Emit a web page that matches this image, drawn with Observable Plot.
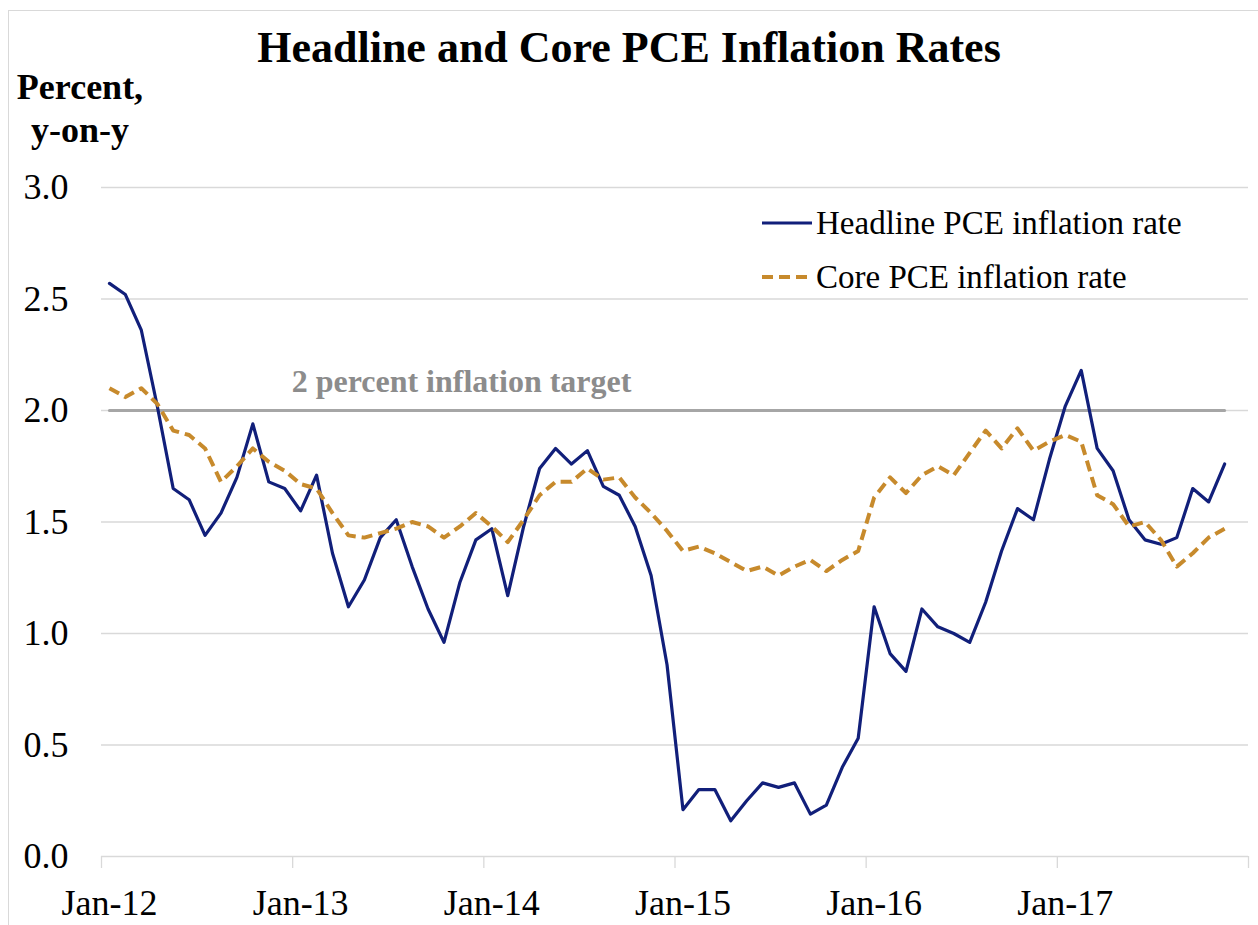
<!DOCTYPE html>
<html>
<head>
<meta charset="utf-8">
<script src="https://cdn.jsdelivr.net/npm/d3@7"></script>
<script src="https://cdn.jsdelivr.net/npm/@observablehq/plot@0.6"></script>
<style>
  html, body { margin: 0; padding: 0; background: #fff; overflow: hidden; }
  #wrap { position: relative; width: 1258px; height: 925px; font-family: "Liberation Serif", "Times New Roman", serif; }
  #border { position: absolute; left: 8px; top: 10px; width: 1400px; height: 1100px; border: 1px solid #d9d9d9; box-sizing: border-box; }
  #chart { position: absolute; left: 0; top: 0; }
  .title { position: absolute; left: 0; width: 1258px; top: 22px; text-align: center; font-weight: bold; font-size: 44px; color: #000; white-space: nowrap; }
  .ylab { position: absolute; left: 0; width: 160px; top: 66px; text-align: center; font-weight: bold; font-size: 36px; line-height: 43px; color: #000; }
  .legend { position: absolute; left: 762px; top: 196px; font-size: 33px; color: #000; }
  .legend .row { display: flex; align-items: center; height: 54px; white-space: nowrap; }
  .legend svg { margin-right: 4px; }
</style>
</head>
<body>
<div id="wrap">
  <div id="border"></div>
  <div id="chart"></div>
  <div class="title">Headline and Core PCE Inflation Rates</div>
  <div class="ylab">Percent,<br>y-on-y</div>
  <div class="legend" id="legend"></div>
</div>
<script>
// Monthly values, Jan-12 .. Nov-17 (percent, year-on-year)
const headline = [
  2.57, 2.52, 2.36, 2.02, 1.65, 1.60, 1.44, 1.54, 1.70, 1.94, 1.68, 1.65,
  1.55, 1.71, 1.36, 1.12, 1.24, 1.43, 1.51, 1.30, 1.11, 0.96, 1.23, 1.42,
  1.47, 1.17, 1.48, 1.74, 1.83, 1.76, 1.82, 1.66, 1.62, 1.48, 1.26, 0.86,
  0.21, 0.30, 0.30, 0.16, 0.25, 0.33, 0.31, 0.33, 0.19, 0.23, 0.40, 0.53,
  1.12, 0.91, 0.83, 1.11, 1.03, 1.00, 0.96, 1.14, 1.37, 1.56, 1.51, 1.78,
  2.02, 2.18, 1.83, 1.73, 1.51, 1.42, 1.40, 1.43, 1.65, 1.59, 1.76
];
const core = [
  2.10, 2.06, 2.10, 2.03, 1.91, 1.89, 1.83, 1.68, 1.75, 1.83, 1.77, 1.73,
  1.67, 1.65, 1.54, 1.44, 1.43, 1.45, 1.47, 1.50, 1.48, 1.43, 1.48, 1.54,
  1.48, 1.41, 1.51, 1.62, 1.68, 1.68, 1.74, 1.69, 1.70, 1.61, 1.54, 1.46,
  1.37, 1.39, 1.36, 1.32, 1.28, 1.30, 1.26, 1.30, 1.33, 1.28, 1.33, 1.37,
  1.61, 1.70, 1.63, 1.71, 1.75, 1.71, 1.81, 1.91, 1.83, 1.92, 1.82, 1.86,
  1.89, 1.86, 1.62, 1.58, 1.48, 1.50, 1.42, 1.30, 1.36, 1.43, 1.47
];
const targetValue = 2.0;
const yearLabels = ["Jan-12", "Jan-13", "Jan-14", "Jan-15", "Jan-16", "Jan-17"];
const yTicks = [0, 0.5, 1.0, 1.5, 2.0, 2.5, 3.0];
const seriesNames = ["Headline PCE inflation rate", "Core PCE inflation rate"];
const targetLabel = "2 percent inflation target";

const navy = "#111f7a";
const gold = "#c78a2c";
const grid = "#d9d9d9";
const targetGray = "#a6a6a6";

// month slot index: month i occupies [i, i+1], point at centre
const rows = headline.map((v, i) => ({m: i + 0.5, headline: v, core: core[i], target: targetValue}));
const nSlots = 72; // Jan-12 .. Dec-17
const boundaries = d3.range(0, nSlots + 1, 12);
const labelPos = yearLabels.map((_, k) => k * 12 + 0.5);

const plot = Plot.plot({
  width: 1258,
  height: 925,
  marginLeft: 101,
  marginRight: 10,
  marginTop: 187,
  marginBottom: 69,
  style: {fontFamily: "Liberation Serif, Times New Roman, serif", background: "transparent"},
  x: {type: "linear", domain: [0, nSlots], label: null},
  y: {domain: [0, 3], label: null},
  marks: [
    Plot.ruleY(yTicks, {stroke: grid, strokeWidth: 1.3}),
    Plot.axisX(boundaries, {tickSize: 12, stroke: grid, strokeWidth: 1.3, tickFormat: null, text: null, label: null}),
    Plot.axisX(labelPos, {tickSize: 0, tickPadding: 33, fontSize: 36, fill: "#000", label: null,
      tickFormat: (d) => yearLabels[Math.round((d - 0.5) / 12)]}),
    Plot.axisY(yTicks, {tickSize: 0, tickPadding: 33, fontSize: 36, fill: "#000", label: null, tickFormat: d3.format(".1f")}),
    Plot.lineY(rows, {x: "m", y: "target", stroke: targetGray, strokeWidth: 3}),
    Plot.text([targetLabel], {x: 22.6, y: targetValue, dy: -19, lineAnchor: "bottom",
      fontSize: 32, fontWeight: "bold", fill: "#8c8c8c", text: (d) => d, wordSpacing: 4}),
    Plot.lineY(rows, {x: "m", y: "headline", stroke: navy, strokeWidth: 3.2}),
    Plot.lineY(rows, {x: "m", y: "core", stroke: gold, strokeWidth: 4, strokeDasharray: "11,6", strokeLinecap: "butt"})
  ]
});
document.getElementById("chart").appendChild(plot);

// legend
const legend = document.getElementById("legend");
const swatches = [
  {name: seriesNames[0], color: navy, dash: null, w: 3.2},
  {name: seriesNames[1], color: gold, dash: "11,6", w: 4}
];
for (const s of swatches) {
  const row = document.createElement("div");
  row.className = "row";
  row.innerHTML = `<svg width="50" height="12"><line x1="0" x2="50" y1="6" y2="6" stroke="${s.color}" stroke-width="${s.w}" ${s.dash ? `stroke-dasharray="${s.dash}"` : ""}/></svg><span>${s.name}</span>`;
  legend.appendChild(row);
}
</script>
</body>
</html>
